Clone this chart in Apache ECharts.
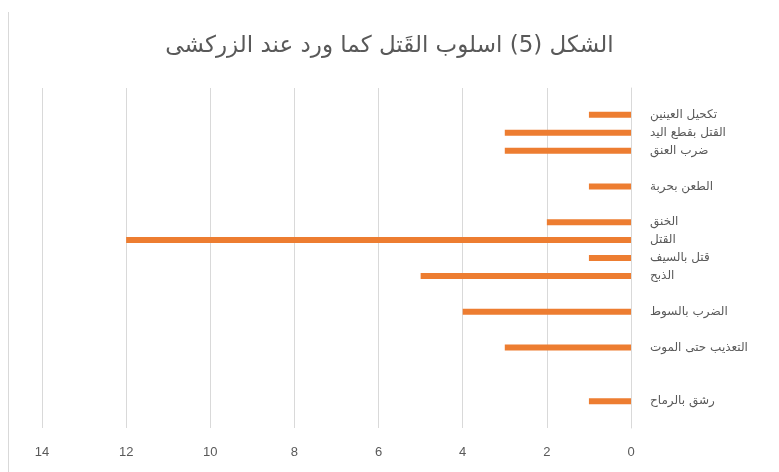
<!DOCTYPE html>
<html><head><meta charset="utf-8">
<script src="https://cdn.jsdelivr.net/npm/echarts@6/dist/echarts.min.js"></script>
<style>html,body{margin:0;padding:0;background:#fff}#c{width:779px;height:472px}</style>
</head><body><div id="c"></div>
<script>
const categories = ['', 'تكحيل العينين', 'القتل بقطع اليد', 'ضرب العنق', '', 'الطعن بحربة', '', 'الخنق', 'القتل', 'قتل بالسيف', 'الذبح', '', 'الضرب بالسوط', '', 'التعذيب حتى الموت', '', '', 'رشق بالرماح', ''];
const values = ['-', 1, 3, 3, '-', 1, '-', 2, 12, 1, 5, '-', 4, '-', 3, '-', '-', 1, '-'];
const xTicks = { min: 0, max: 14, interval: 2 };
const titleText = 'الشكل (5) اسلوب القَتل كما ورد عند الزركشى';

const chart = echarts.init(document.getElementById('c'), null, { renderer: 'canvas' });
chart.setOption({
  animation: false,
  title: {
    text: titleText, left: 'center', top: 30,
    textStyle: { fontFamily: 'DejaVu Sans', fontSize: 23, fontWeight: 'normal', color: '#595959' }
  },
  grid: { left: 42, right: 148, top: 88, bottom: 44 },
  xAxis: {
    type: 'value', inverse: true, min: xTicks.min, max: xTicks.max, interval: xTicks.interval,
    axisLine: { show: false }, axisTick: { show: false },
    splitLine: { lineStyle: { color: '#d9d9d9', width: 1 } },
    axisLabel: { color: '#595959', fontSize: 13, margin: 18, fontFamily: 'Liberation Sans Narrow, Liberation Sans' }
  },
  yAxis: {
    type: 'category', data: categories, inverse: true, position: 'right',
    axisLine: { show: true, lineStyle: { color: '#d9d9d9' } }, axisTick: { show: false },
    axisLabel: { color: '#595959', fontSize: 12, margin: 19, align: 'left', interval: 0, fontFamily: 'DejaVu Sans' }
  },
  series: [{
    type: 'bar', data: values, barWidth: 6,
    itemStyle: { color: '#ED7D31' }
  }],
  graphic: [{
    type: 'line', shape: { x1: 8.5, y1: 12, x2: 8.5, y2: 472 },
    style: { stroke: '#d9d9d9', lineWidth: 1 }
  }]
});
</script></body></html>
